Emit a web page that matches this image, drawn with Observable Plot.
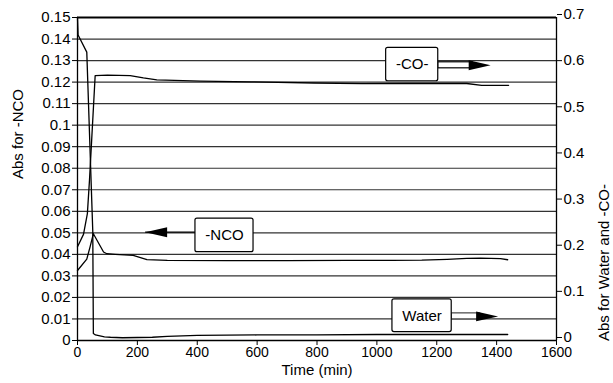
<!DOCTYPE html>
<html><head><meta charset="utf-8">
<script src="https://cdn.jsdelivr.net/npm/d3@7"></script>
<script src="https://cdn.jsdelivr.net/npm/@observablehq/plot@0.6"></script>
<style>
html,body{margin:0;padding:0;background:#fff;}
</style></head><body><div id="chart"></div>
<script>
// -NCO (left axis)
const ncoTime = [0, 31, 42, 53, 87, 98, 126, 186, 232, 300, 500, 700, 900, 1050, 1150, 1235, 1300, 1346, 1413, 1437];
const ncoAbs  = [0.0325, 0.0378, 0.0435, 0.0496, 0.0411, 0.0403, 0.0400, 0.0395, 0.0376, 0.0372, 0.0371, 0.0371, 0.0372, 0.0372, 0.0373, 0.0377, 0.0381, 0.0383, 0.0380, 0.0375];
// -CO- (right axis)
const coTime = [0, 20, 33, 40, 59, 100, 176, 220, 265, 411, 580, 790, 950, 1100, 1210, 1300, 1350, 1440];
const coAbs  = [0.203, 0.23, 0.275, 0.347, 0.574, 0.575, 0.574, 0.569, 0.565, 0.562, 0.5605, 0.558, 0.5565, 0.557, 0.557, 0.557, 0.553, 0.553];
// Water (right axis)
const waterTime = [0, 2, 31, 51, 53, 60, 90, 110, 150, 250, 300, 400, 600, 800, 1000, 1200, 1437];
const waterAbs  = [0.70, 0.662, 0.625, 0.237, 0.015, 0.012, 0.008, 0.007, 0.006, 0.007, 0.009, 0.011, 0.012, 0.012, 0.013, 0.013, 0.013];

const xTicks = [0, 200, 400, 600, 800, 1000, 1200, 1400, 1600];
const leftTicks = [0, 0.01, 0.02, 0.03, 0.04, 0.05, 0.06, 0.07, 0.08, 0.09, 0.1, 0.11, 0.12, 0.13, 0.14, 0.15];
const rightTicks = [0, 0.1, 0.2, 0.3, 0.4, 0.5, 0.6, 0.7];

const xTitle = "Time (min)";
const leftTitle = "Abs for -NCO";
const rightTitle = "Abs for Water and -CO-";

// annotation boxes (data units: time, left-axis abs)
const boxes = [
  {label: "-CO-",  x1: 1031, x2: 1205, y1: 0.1204, y2: 0.1359},
  {label: "Water", x1: 1052, x2: 1250, y1: 0.0039, y2: 0.0191},
  {label: "-NCO",  x1: 394,  x2: 588,  y1: 0.0410, y2: 0.0566}
];
const arrows = [
  {from: 1205, to: 1380, y: 0.1278, dir: 0,   hollow: true,  stroke: "#000"},
  {from: 1250, to: 1405, y: 0.0112, dir: 0,   hollow: true,  stroke: "#444"},
  {from: 394,  to: 226,  y: 0.0503, dir: 180, hollow: false, stroke: "#000"}
];

const K = 0.15 / 0.7; // right-axis units -> left-axis units

const nco = ncoTime.map((t, i) => ({t, v: ncoAbs[i]}));
const co = coTime.map((t, i) => ({t, v: coAbs[i] * K}));
const water = waterTime.map((t, i) => ({t, v: waterAbs[i] * K}));

const head = {
  draw(ctx, size) {
    const l = Math.sqrt(size);
    ctx.moveTo(0, 0);
    ctx.lineTo(-2 * l, -0.45 * l);
    ctx.lineTo(-2 * l, 0.45 * l);
    ctx.closePath();
  }
};

const shaftHalf = 0.0014;
const shafts = arrows.filter(a => a.hollow).map(a => ({x1: a.from, x2: a.to - 60, y1: a.y - shaftHalf, y2: a.y + shaftHalf, stroke: a.stroke}));
const thin = arrows.filter(a => !a.hollow);

const font = "'Liberation Sans', Arial, Helvetica, sans-serif";

const chart = Plot.plot({
  width: 613, height: 383,
  marginLeft: 77, marginRight: 57, marginTop: 17, marginBottom: 43,
  style: {fontFamily: font, fontSize: "14px", background: "#fff", color: "#000"},
  x: {domain: [0, 1600]},
  y: {domain: [0, 0.15]},
  marks: [
    Plot.ruleY(leftTicks.slice(1, -1), {stroke: "#333", strokeWidth: 1.2}),
    Plot.ruleY([0.15], {stroke: "#000", strokeWidth: 2}),
    Plot.line(co, {x: "t", y: "v", stroke: "#000", strokeWidth: 1.3}),
    Plot.line(water, {x: "t", y: "v", stroke: "#000", strokeWidth: 1.3}),
    Plot.line(nco, {x: "t", y: "v", stroke: "#000", strokeWidth: 1.3}),
    Plot.link(thin, {x1: "from", x2: "to", y1: "y", y2: "y", stroke: "#000", strokeWidth: 1.2}),
    Plot.rect(shafts, {x1: "x1", x2: "x2", y1: "y1", y2: "y2", fill: "#fff", stroke: d => d.stroke, strokeWidth: 1.2}),
    Plot.dot(arrows, {x: "to", y: "y", symbol: head, r: 6.2, fill: "#000", stroke: null, rotate: "dir"}),
    Plot.rect(boxes, {x1: "x1", x2: "x2", y1: "y1", y2: "y2", fill: "#fff", stroke: "#000", strokeWidth: 1.2, rx: 2}),
    Plot.text(boxes, {x: d => (d.x1 + d.x2) / 2, y: d => (d.y1 + d.y2) / 2, text: "label", fontSize: 15, fill: "#000"}),
    Plot.ruleX([0], {stroke: "#000", strokeWidth: 1.3}),
    Plot.ruleX([1600], {stroke: "#000", strokeWidth: 1.3}),
    Plot.ruleY([0], {stroke: "#000", strokeWidth: 1.3}),
    Plot.axisX(xTicks, {anchor: "bottom", tickSize: 5, tickPadding: 2, fontSize: 14, label: null, tickFormat: d => String(d)}),
    Plot.axisY(leftTicks, {anchor: "left", tickSize: 5, tickPadding: 2, fontSize: 15, label: null, tickFormat: d => String(+d.toFixed(2))}),
    Plot.axisY(rightTicks.map(v => v * K), {anchor: "right", tickSize: 5, tickPadding: 2, fontSize: 15, label: null, dy: -3, tickFormat: d => String(+(d / K).toFixed(1))}),
    Plot.text([leftTitle], {frameAnchor: "left", dx: -59, rotate: -90, fontSize: 15, fill: "#000"}),
    Plot.text([rightTitle], {frameAnchor: "right", dx: 48, dy: 5, rotate: -90, fontSize: 15, fill: "#000"}),
    Plot.text([xTitle], {frameAnchor: "bottom", dy: 34, fontSize: 15, fill: "#000"})
  ]
});
document.getElementById("chart").appendChild(chart);
</script>
</body></html>
